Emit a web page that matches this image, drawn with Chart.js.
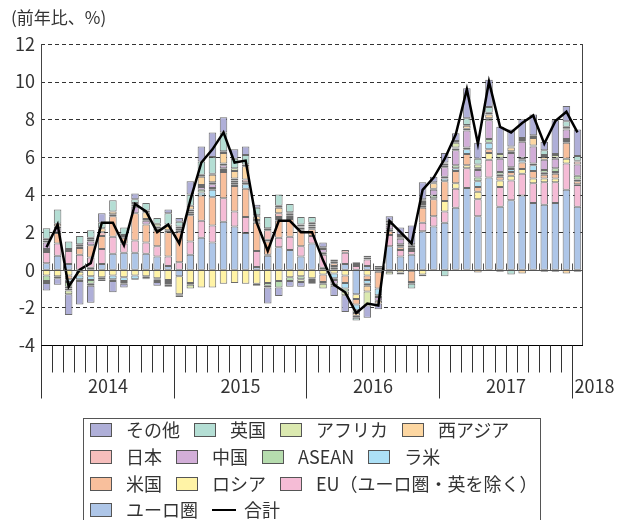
<!DOCTYPE html>
<html lang="ja">
<head>
<meta charset="utf-8">
<title>前年比</title>
<script src="https://cdn.jsdelivr.net/npm/chart.js@4.4.1/dist/chart.umd.min.js"></script>
<style>
  body { margin: 0; background: #fff; }
  #wrap { position: relative; width: 627px; height: 520px; overflow: hidden; font-family: "Noto Sans CJK JP", "Noto Sans", sans-serif; color: #333; }
  #unit { position: absolute; left: 11px; top: 5px; font-size: 17px; line-height: 24px; }
  #legend { position: absolute; left: 83px; top: 418px; width: 458px; height: 130px; border: 1px solid #555; box-sizing: border-box; padding: 0 0 0 6px; font-size: 18px; }
  #legend .rows { margin-top: -3px; }
  .row { display: flex; align-items: center; height: 26.7px; line-height: 20px; white-space: nowrap; }
  .item { display: flex; align-items: center; margin-right: 14px; }
  .sw { width: 22px; height: 14px; border: 1px solid #555; box-sizing: border-box; margin-right: 14px; margin-top: 2px; }
  .ln { width: 24px; height: 0; border-top: 2.5px solid #000; margin-right: 8px; margin-top: 2px; }
</style>
</head>
<body>
<div id="wrap">
  <canvas id="chart" width="627" height="520"></canvas>
  <div id="unit">(前年比、%)</div>
  <div id="legend"><div class="rows" id="legendRows"></div></div>
</div>
<script>
// categories: Jan 2014 .. Jan 2018 (monthly)
const years = ['2014', '2015', '2016', '2017', '2018'];
const monthCount = 49;

// contributions by region (% points)
const euroArea = [0.35,0.75,0.3,-0.1,0.1,0.3,0.85,0.9,0.9,0.85,0.7,0.2, -0.35,0.8,1.7,1.45,2.55,2.3,1.95,0.15,0.75,1.2,1.05,0.7, 1.4,0.1,0.1,0.3,-1.3,0.2,0.1,1.25,0.7,0.8,2.05,2.3, 2.5,3.3,4.35,2.85,4.9,3.35,3.7,3.95,3.55,3.45,3.55,4.25,3.35];
const euOther = [0.6,0.65,0.7,0.8,0.55,0.8,0.9,0.5,0.65,0.6,0.55,0.5, 0.4,0.7,0.9,0.9,1.25,0.8,0.85,0.85,0.05,0.5,0.7,0.55, 0.4,0.7,0.1,0.6,0.2,0.35,0.05,0.6,0.35,0.2,0.45,0.55, 0.6,1.0,1.05,0.9,0.95,1.05,1.05,1.15,1.05,1.2,1.1,1.4,1.15];
const russia = [-0.3,-0.35,-0.3,-0.2,-0.35,-0.4,-0.3,-0.4,-0.3,-0.35,-0.45,-0.55, -0.95,-0.7,-0.95,-0.95,-0.75,-0.7,-0.75,-0.75,-0.7,-0.6,-0.4,-0.35, -0.45,-0.25,-0.2,-0.3,-0.25,-0.3,-0.1,-0.1,-0.15,-0.05,-0.25,-0.05, 0.55,0.3,0.15,0.4,0.35,0.35,0.25,0.25,0.25,0.2,0.2,0.25,0.05];
const usa = [0.1,0.55,-0.2,0.35,0.65,0.7,1.1,0.3,1.45,0.95,0.85,1.3, 1.6,1.4,1.35,1.5,1.4,1.35,1.5,1.5,0.7,0.9,0.95,0.85, 0.35,-0.4,0.15,-0.4,-0.3,-0.25,-0.9,0.2,0.15,-0.6,0.8,0.9, 1.05,0.65,0.6,0.25,0.2,0.2,0.2,0.35,0.4,0.2,0.25,0.85,0.15];
const latinAm = [0.05,0.05,-0.15,-0.2,-0.2,-0.1,-0.2,-0.2,-0.2,0,-0.05,-0.05, -0.05,0.1,0.15,0.4,0.1,0.1,0.25,0.05,0.1,0.1,0.05,0.05, 0.05,0.1,-0.25,-0.3,-0.3,-0.2,-0.35,0.1,0.05,0.1,0.1,0.05, 0.15,0.15,0.25,0.3,0.35,0.1,0.15,0.15,0.3,0.1,0.1,0.1,0.1];
const asean = [-0.3,0,-0.25,-0.1,-0.2,-0.1,-0.1,-0.1,-0.05,-0.1,-0.1,-0.1, -0.1,-0.1,0.15,0.1,0.1,0.1,0,0,-0.15,-0.35,-0.2,-0.15, -0.1,-0.1,-0.1,-0.15,-0.15,-0.1,-0.1,0,0.1,0,0.1,0.15, 0.1,0.15,0.1,0.2,0.2,0.15,0.1,0.1,0.1,0.15,0.2,0.1,0.2];
const china = [0.35,0.2,-0.1,0,0.2,0,0,0,0.35,0.2,-0.05,-0.1, 0.1,0.1,0.15,0.2,0.15,0.1,0.1,-0.1,0,0.1,0.05,0.1, 0.1,0.2,-0.2,0,0.1,0,-0.2,0.2,0.3,0.1,0.1,0.3, 0.5,0.8,0.9,0.4,1.0,0.7,0.75,0.85,0.9,0.55,0.5,0.5,0.6];
const japan = [0.1,0.1,0.1,0.1,0.1,0.2,0.1,0.1,0.1,0.1,0.1,0.1, 0.1,0.1,0.1,0.1,0.1,0.1,0.15,0.1,0.5,0.2,0.1,0.05, 0.1,0.1,0.1,0.15,0.1,0.1,0.05,0.1,0.05,0.1,0.05,0.05, 0.1,0.1,0.1,0.1,0.1,0.05,0.1,0.1,0.05,-0.1,-0.1,0.05,0.15];
const westAsia = [0.1,0.15,-0.1,0.1,0.1,0.2,0.15,0.05,0.1,0.35,0.1,0.3, 0.1,0.2,0.45,0.4,0.55,0.4,0.7,0.2,0.1,0.3,0.1,0.1, 0.1,0,0.1,0,-0.15,-0.3,-0.15,0.05,0.1,0.05,0.05,0.3, 0.1,0.05,0.15,-0.15,0.2,-0.1,0.2,-0.2,0.4,0.15,0.05,-0.2,0.05];
const africa = [-0.1,-0.1,-0.2,0,-0.1,0,0,-0.05,0,0.1,0.15,-0.1, 0,-0.2,0.1,0.05,0.1,0.15,0.1,0.05,-0.1,0.1,0.05,-0.15, -0.1,-0.25,-0.1,-0.2,-0.1,-0.75,0,-0.15,0.05,-0.1,0.05,0.05, 0.05,0.25,0.05,0.2,0.1,0.2,0.05,0.05,0.05,0.1,0.15,0.1,-0.1];
const uk = [0.55,0.75,0.4,0.45,0.4,0.3,0.6,0.4,0.2,0.4,0.3,0.6, 0.25,0.6,0.7,0.9,1.0,0.5,0.5,0.4,0.6,0.6,0.45,0.4, 0.3,0,0,0,-0.15,0.1,0,0.1,-0.1,-0.25,-0.1,0, -0.35,0.1,0.35,0.3,0.3,0,-0.25,0.05,0.1,0.25,0.05,0.3,0.25];
const others = [-0.4,-0.35,-1.1,-1.25,-0.9,0.5,-0.6,-0.2,0.3,-0.05,-0.2,0.2, 0.2,0.7,0.8,1.3,0.8,0.5,0.45,0.15,-0.85,-0.45,-0.3,-0.25, -0.1,0.25,-0.55,-0.9,0,-0.65,-0.3,0.25,0.4,1.0,0.9,0.3, 0.5,0.4,1.6,0.85,1.45,1.45,0.9,1.0,1.1,0.45,1.8,0.8,1.4];
// total (line)
const total = [1.2,2.4,-0.9,0.0,0.35,2.5,2.5,1.3,3.5,3.1,2.0,2.4, 1.4,3.7,5.7,6.4,7.3,5.7,5.8,2.5,1.0,2.6,2.6,2.0, 2.0,0.5,-0.8,-1.2,-2.3,-1.8,-1.9,2.6,2.0,1.4,4.25,4.9, 5.9,7.2,9.6,6.7,10.0,7.6,7.3,7.8,8.2,6.7,7.9,8.4,7.3];

const yTicks = [-4, -2, 0, 2, 4, 6, 8, 10, 12];

// stacking order bottom -> top
const barSeries = [
    { label: 'ユーロ圏', data: euroArea, color: '#aec6e8' },
    { label: 'EU（ユーロ圏・英を除く）', data: euOther, color: '#f5bcd6' },
    { label: 'ロシア', data: russia, color: '#fff3a6' },
    { label: '米国', data: usa, color: '#f8bf9c' },
    { label: 'ラ米', data: latinAm, color: '#ace0f6' },
    { label: 'ASEAN', data: asean, color: '#b6dcae' },
    { label: '中国', data: china, color: '#d2aed8' },
    { label: '日本', data: japan, color: '#f6bebc' },
    { label: '西アジア', data: westAsia, color: '#fdd7a2' },
    { label: 'アフリカ', data: africa, color: '#dbe9b0' },
    { label: '英国', data: uk, color: '#b4ded4' },
    { label: 'その他', data: others, color: '#afafd8' }
];

const legendRows = [
    ['その他', '英国', 'アフリカ', '西アジア'],
    ['日本', '中国', 'ASEAN', 'ラ米'],
    ['米国', 'ロシア', 'EU（ユーロ圏・英を除く）'],
    ['ユーロ圏', '合計']
];

const labels = [];
for (let i = 0; i < monthCount; i++) {
    labels.push(years[Math.floor(i / 12)] + '/' + (i % 12 + 1));
}

Chart.defaults.font.family = '"Noto Sans CJK JP", "Noto Sans", sans-serif';

// Axis frame, dashed grid, month ticks and year labels
const axisDecor = {
    id: 'axisDecor',
    beforeDatasetsDraw(chart) {
        const { ctx, chartArea: a, scales: { y } } = chart;
        ctx.save();
        ctx.strokeStyle = '#333';
        ctx.lineWidth = 1;
        ctx.setLineDash([4, 3]);
        yTicks.forEach(v => {
            if (v === 0 || v === yTicks[0]) return;
            const py = Math.round(y.getPixelForValue(v)) + 0.5;
            ctx.beginPath();
            ctx.moveTo(a.left, py);
            ctx.lineTo(a.right, py);
            ctx.stroke();
        });
        ctx.setLineDash([]);
        ctx.restore();
    },
    afterDatasetsDraw(chart) {
        const { ctx, chartArea: a, scales: { x, y } } = chart;
        const step = x.getPixelForValue(1) - x.getPixelForValue(0);
        const edge = i => Math.round(x.getPixelForValue(0) - step / 2 + i * step) + 0.5;
        const zeroY = Math.round(y.getPixelForValue(0)) + 0.5;
        const bottom = Math.round(a.bottom) + 0.5;
        ctx.save();
        // zero line with small ticks
        ctx.strokeStyle = '#555';
        ctx.lineWidth = 1;
        ctx.beginPath();
        ctx.moveTo(a.left, zeroY);
        ctx.lineTo(a.right, zeroY);
        for (let i = 1; i < monthCount; i++) {
            ctx.moveTo(edge(i), zeroY);
            ctx.lineTo(edge(i), zeroY - 7);
        }
        ctx.stroke();
        // frame
        ctx.strokeStyle = '#444';
        ctx.beginPath();
        ctx.moveTo(Math.round(a.left) + 0.5, a.top);
        ctx.lineTo(Math.round(a.left) + 0.5, bottom);
        ctx.moveTo(Math.round(a.right) - 0.5, a.top);
        ctx.lineTo(Math.round(a.right) - 0.5, bottom);
        ctx.stroke();
        ctx.strokeStyle = '#000';
        ctx.beginPath();
        ctx.moveTo(a.left, bottom);
        ctx.lineTo(a.right, bottom);
        ctx.stroke();
        // month ticks and year separators
        ctx.strokeStyle = '#333';
        ctx.beginPath();
        for (let i = 0; i < monthCount; i++) {
            const px = edge(i);
            ctx.moveTo(px, bottom);
            ctx.lineTo(px, i % 12 === 0 ? bottom + 53 : bottom + 27);
        }
        ctx.stroke();
        // year labels
        ctx.fillStyle = '#333';
        ctx.font = '18px "Noto Sans CJK JP", "Noto Sans", sans-serif';
        ctx.textBaseline = 'middle';
        years.forEach((yr, k) => {
            const s = k * 12;
            const e = Math.min(s + 12, monthCount);
            if (e - s === 12) {
                ctx.textAlign = 'center';
                ctx.fillText(yr, (edge(s) + edge(e)) / 2, bottom + 41);
            } else {
                ctx.textAlign = 'left';
                ctx.fillText(yr, edge(s) + 2, bottom + 41);
            }
        });
        ctx.restore();
    }
};

const datasets = barSeries.map(s => ({
    type: 'bar',
    label: s.label,
    data: s.data,
    backgroundColor: s.color,
    borderColor: 'rgba(70, 70, 70, 0.8)',
    borderWidth: 1,
    borderSkipped: false,
    barPercentage: 0.68,
    categoryPercentage: 1.0,
    stack: 'regions',
    order: 1
}));

datasets.push({
    type: 'line',
    label: '合計',
    data: total,
    borderColor: '#000',
    borderWidth: 2.5,
    pointRadius: 0,
    tension: 0,
    fill: false,
    stack: 'sum',
    order: 0
});

new Chart(document.getElementById('chart'), {
    data: { labels: labels, datasets: datasets },
    options: {
        responsive: false,
        animation: false,
        layout: { padding: { top: 44, right: 44, bottom: 175, left: 0 } },
        plugins: { legend: { display: false }, tooltip: { enabled: false } },
        scales: {
            x: { display: false, stacked: true, offset: true },
            y: {
                stacked: true,
                min: -4,
                max: 12,
                afterFit(scale) { scale.width = 41; },
                afterBuildTicks(scale) { scale.ticks = yTicks.map(v => ({ value: v })); },
                ticks: { color: '#333', font: { size: 18 }, padding: 6 },
                grid: { display: false, drawTicks: false },
                border: { display: false }
            }
        }
    },
    plugins: [axisDecor]
});

// legend
const legendEl = document.getElementById('legendRows');
legendRows.forEach(row => {
    const rowEl = document.createElement('div');
    rowEl.className = 'row';
    row.forEach(name => {
        const item = document.createElement('div');
        item.className = 'item';
        const mark = document.createElement('span');
        const s = barSeries.find(b => b.label === name);
        if (s) {
            mark.className = 'sw';
            mark.style.background = s.color;
        } else {
            mark.className = 'ln';
        }
        item.appendChild(mark);
        item.appendChild(document.createTextNode(name));
        rowEl.appendChild(item);
    });
    legendEl.appendChild(rowEl);
});
</script>
</body>
</html>
